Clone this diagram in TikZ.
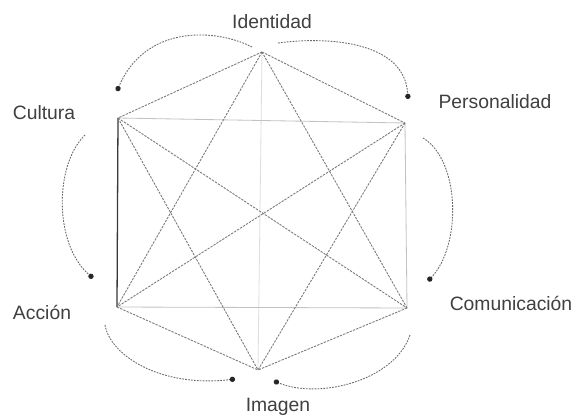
\documentclass[tikz,border=0pt]{standalone}
\usepackage{fontspec}
\setmainfont{Liberation Sans}
\usetikzlibrary{arrows.meta}
\begin{document}
\begin{tikzpicture}[x=0.03cm,y=-0.03cm,
  lbl/.style={font=\fontsize{16.5}{18}\selectfont, text=black!75, inner sep=0pt},
  edgeline/.style={draw=black!52, line width=0.75pt, dash pattern=on 2pt off 1pt},
  faintline/.style={draw=black!24, line width=0.7pt},
  veryfaint/.style={draw=black!13, line width=0.7pt},
  solidline/.style={draw=black!78, line width=1.1pt},
  flowarc/.style={draw=black!58, line width=0.75pt, dash pattern=on 1.5pt off 1pt, -{Circle[length=4.5pt, color=black!85, fill=black!85]}}
]
\useasboundingbox (0,0) rectangle (577,416);
\fill[white] (0,0) rectangle (577,416);

% vertices
\coordinate (T) at (262,52);
\coordinate (TL) at (118,118);
\coordinate (TR) at (405,123);
\coordinate (BL) at (117,307);
\coordinate (BR) at (407,308);
\coordinate (B) at (258,370);

% labels
\node[lbl] (identidad) at (272,22) {Identidad};
\node[lbl] (personalidad) at (495,102) {Personalidad};
\node[lbl] (cultura) at (44,113) {Cultura};
\node[lbl] (accion) at (42,312) {Acción};
\node[lbl] (comunicacion) at (511,303) {Comunicación};
\node[lbl] (imagen) at (278,407) {Imagen};

% faint edges
\draw[veryfaint] (T) -- (B);
\draw[faintline] (TL) -- (TR);
\draw[faintline] (TR) -- (BR);
\draw[faintline] (BL) -- (BR);
% solid edge
\draw[solidline] (TL) -- (BL);
% dashed edges
\draw[edgeline] (T) -- (TL);
\draw[edgeline] (T) -- (TR);
\draw[edgeline] (T) -- (BL);
\draw[edgeline] (T) -- (BR);
\draw[edgeline] (TL) -- (BR);
\draw[edgeline] (TL) -- (B);
\draw[edgeline] (TR) -- (BL);
\draw[edgeline] (TR) -- (B);
\draw[edgeline] (BL) -- (B);
\draw[edgeline] (BR) -- (B);

% arc end points
\coordinate (a1s) at (252,47);  \coordinate (a1e) at (117,91);
\coordinate (a2s) at (278,43);  \coordinate (a2e) at (408,99);
\coordinate (a3s) at (85,135);  \coordinate (a3e) at (93,278);
\coordinate (a4s) at (423,138); \coordinate (a4e) at (428,281);
\coordinate (a5s) at (105,325); \coordinate (a5e) at (235,379);
\coordinate (a6s) at (410,335); \coordinate (a6e) at (274,381);

\draw[flowarc] (a1s) .. controls (215,28) and (145,25) .. (a1e);
\draw[flowarc] (a2s) .. controls (330,36) and (405,42) .. (a2e);
\draw[flowarc] (a3s) .. controls (54,165) and (54,245) .. (a3e);
\draw[flowarc] (a4s) .. controls (460,160) and (462,245) .. (a4e);
\draw[flowarc] (a5s) .. controls (110,355) and (160,388) .. (a5e);
\draw[flowarc] (a6s) .. controls (395,380) and (320,400) .. (a6e);
\end{tikzpicture}
\end{document}
